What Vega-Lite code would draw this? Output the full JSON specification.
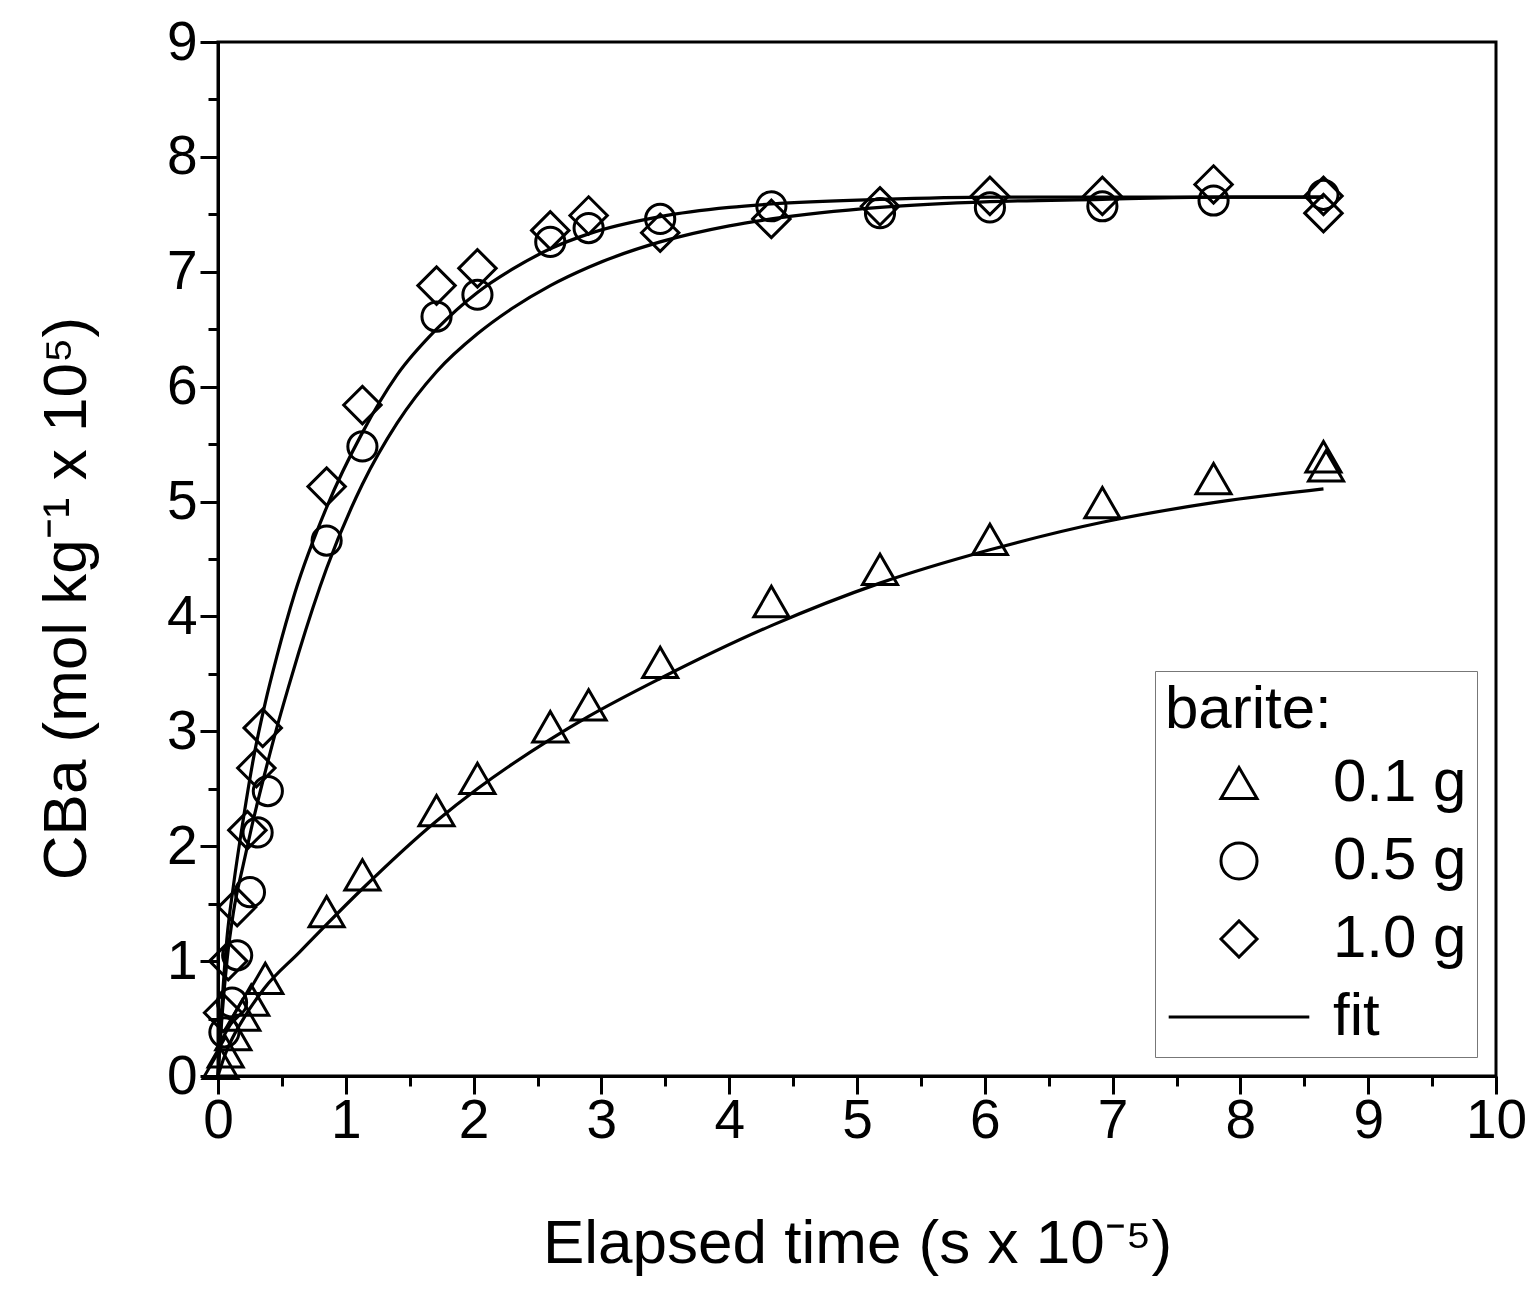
{
  "$schema": "https://vega.github.io/schema/vega-lite/v6.json",
  "width": 1278,
  "height": 1034,
  "autosize": {"type": "none"},
  "padding": {"left": 218, "top": 42, "right": 40, "bottom": 215},
  "background": "white",
  "config": {
    "font": "Liberation Sans",
    "view": {"stroke": "black", "strokeWidth": 3},
    "axis": {"grid": false, "domainColor": "black", "domainWidth": 3, "tickColor": "black", "tickWidth": 3, "labelColor": "black", "titleColor": "black", "labelFont": "Liberation Sans", "titleFont": "Liberation Sans"}
  },
  "datasets": {
    "points": [
      {"t": 0.02, "c": 0.11, "series": "0.1 g"},
      {"t": 0.06, "c": 0.21, "series": "0.1 g"},
      {"t": 0.12, "c": 0.36, "series": "0.1 g"},
      {"t": 0.19, "c": 0.53, "series": "0.1 g"},
      {"t": 0.26, "c": 0.66, "series": "0.1 g"},
      {"t": 0.37, "c": 0.85, "series": "0.1 g"},
      {"t": 0.85, "c": 1.43, "series": "0.1 g"},
      {"t": 1.13, "c": 1.75, "series": "0.1 g"},
      {"t": 1.71, "c": 2.31, "series": "0.1 g"},
      {"t": 2.03, "c": 2.59, "series": "0.1 g"},
      {"t": 2.6, "c": 3.04, "series": "0.1 g"},
      {"t": 2.9, "c": 3.23, "series": "0.1 g"},
      {"t": 3.46, "c": 3.6, "series": "0.1 g"},
      {"t": 4.33, "c": 4.13, "series": "0.1 g"},
      {"t": 5.18, "c": 4.41, "series": "0.1 g"},
      {"t": 6.04, "c": 4.67, "series": "0.1 g"},
      {"t": 6.92, "c": 4.99, "series": "0.1 g"},
      {"t": 7.79, "c": 5.2, "series": "0.1 g"},
      {"t": 8.65, "c": 5.39, "series": "0.1 g"},
      {"t": 8.67, "c": 5.31, "series": "0.1 g"},
      {"t": 0.05, "c": 0.38, "series": "0.5 g"},
      {"t": 0.11, "c": 0.64, "series": "0.5 g"},
      {"t": 0.15, "c": 1.05, "series": "0.5 g"},
      {"t": 0.25, "c": 1.6, "series": "0.5 g"},
      {"t": 0.31, "c": 2.12, "series": "0.5 g"},
      {"t": 0.39, "c": 2.48, "series": "0.5 g"},
      {"t": 0.85, "c": 4.66, "series": "0.5 g"},
      {"t": 1.13, "c": 5.48, "series": "0.5 g"},
      {"t": 1.71, "c": 6.61, "series": "0.5 g"},
      {"t": 2.03, "c": 6.8, "series": "0.5 g"},
      {"t": 2.6, "c": 7.26, "series": "0.5 g"},
      {"t": 2.9, "c": 7.38, "series": "0.5 g"},
      {"t": 3.46, "c": 7.46, "series": "0.5 g"},
      {"t": 4.33, "c": 7.57, "series": "0.5 g"},
      {"t": 5.18, "c": 7.51, "series": "0.5 g"},
      {"t": 6.04, "c": 7.56, "series": "0.5 g"},
      {"t": 6.92, "c": 7.57, "series": "0.5 g"},
      {"t": 7.79, "c": 7.62, "series": "0.5 g"},
      {"t": 8.65, "c": 7.67, "series": "0.5 g"},
      {"t": 0.04, "c": 0.55, "series": "1.0 g"},
      {"t": 0.08, "c": 1.0, "series": "1.0 g"},
      {"t": 0.15, "c": 1.47, "series": "1.0 g"},
      {"t": 0.23, "c": 2.14, "series": "1.0 g"},
      {"t": 0.3, "c": 2.68, "series": "1.0 g"},
      {"t": 0.35, "c": 3.03, "series": "1.0 g"},
      {"t": 0.85, "c": 5.13, "series": "1.0 g"},
      {"t": 1.13, "c": 5.84, "series": "1.0 g"},
      {"t": 1.71, "c": 6.88, "series": "1.0 g"},
      {"t": 2.03, "c": 7.03, "series": "1.0 g"},
      {"t": 2.6, "c": 7.36, "series": "1.0 g"},
      {"t": 2.9, "c": 7.49, "series": "1.0 g"},
      {"t": 3.46, "c": 7.34, "series": "1.0 g"},
      {"t": 4.33, "c": 7.46, "series": "1.0 g"},
      {"t": 5.18, "c": 7.57, "series": "1.0 g"},
      {"t": 6.04, "c": 7.66, "series": "1.0 g"},
      {"t": 6.92, "c": 7.66, "series": "1.0 g"},
      {"t": 7.79, "c": 7.76, "series": "1.0 g"},
      {"t": 8.65, "c": 7.66, "series": "1.0 g"},
      {"t": 8.65, "c": 7.51, "series": "1.0 g"}
    ],
    "fits": [
      {"t": 0, "c": 0, "fit": "fast"},
      {"t": 0.03, "c": 0.6, "fit": "fast"},
      {"t": 0.07, "c": 1.2, "fit": "fast"},
      {"t": 0.12, "c": 1.65, "fit": "fast"},
      {"t": 0.2, "c": 2.25, "fit": "fast"},
      {"t": 0.28, "c": 2.78, "fit": "fast"},
      {"t": 0.37, "c": 3.25, "fit": "fast"},
      {"t": 0.46, "c": 3.65, "fit": "fast"},
      {"t": 0.6, "c": 4.2, "fit": "fast"},
      {"t": 0.85, "c": 4.95, "fit": "fast"},
      {"t": 1.13, "c": 5.6, "fit": "fast"},
      {"t": 1.4, "c": 6.1, "fit": "fast"},
      {"t": 1.71, "c": 6.5, "fit": "fast"},
      {"t": 2.03, "c": 6.82, "fit": "fast"},
      {"t": 2.3, "c": 7.02, "fit": "fast"},
      {"t": 2.6, "c": 7.2, "fit": "fast"},
      {"t": 2.9, "c": 7.33, "fit": "fast"},
      {"t": 3.46, "c": 7.48, "fit": "fast"},
      {"t": 4.0, "c": 7.56, "fit": "fast"},
      {"t": 4.33, "c": 7.59, "fit": "fast"},
      {"t": 5.18, "c": 7.63, "fit": "fast"},
      {"t": 6.04, "c": 7.65, "fit": "fast"},
      {"t": 6.92, "c": 7.65, "fit": "fast"},
      {"t": 7.79, "c": 7.65, "fit": "fast"},
      {"t": 8.65, "c": 7.65, "fit": "fast"},
      {"t": 0, "c": 0, "fit": "slow"},
      {"t": 0.03, "c": 0.5, "fit": "slow"},
      {"t": 0.07, "c": 1.0, "fit": "slow"},
      {"t": 0.12, "c": 1.42, "fit": "slow"},
      {"t": 0.2, "c": 1.85, "fit": "slow"},
      {"t": 0.27, "c": 2.2, "fit": "slow"},
      {"t": 0.37, "c": 2.65, "fit": "slow"},
      {"t": 0.46, "c": 3.03, "fit": "slow"},
      {"t": 0.55, "c": 3.38, "fit": "slow"},
      {"t": 0.63, "c": 3.68, "fit": "slow"},
      {"t": 0.85, "c": 4.42, "fit": "slow"},
      {"t": 1.13, "c": 5.15, "fit": "slow"},
      {"t": 1.4, "c": 5.68, "fit": "slow"},
      {"t": 1.71, "c": 6.13, "fit": "slow"},
      {"t": 2.03, "c": 6.46, "fit": "slow"},
      {"t": 2.3, "c": 6.68, "fit": "slow"},
      {"t": 2.6, "c": 6.88, "fit": "slow"},
      {"t": 2.9, "c": 7.04, "fit": "slow"},
      {"t": 3.46, "c": 7.26, "fit": "slow"},
      {"t": 4.0, "c": 7.4, "fit": "slow"},
      {"t": 4.33, "c": 7.46, "fit": "slow"},
      {"t": 5.18, "c": 7.56, "fit": "slow"},
      {"t": 6.04, "c": 7.61, "fit": "slow"},
      {"t": 6.92, "c": 7.63, "fit": "slow"},
      {"t": 7.79, "c": 7.65, "fit": "slow"},
      {"t": 8.65, "c": 7.65, "fit": "slow"},
      {"t": 0, "c": 0, "fit": "low"},
      {"t": 0.05, "c": 0.17, "fit": "low"},
      {"t": 0.1, "c": 0.3, "fit": "low"},
      {"t": 0.2, "c": 0.5, "fit": "low"},
      {"t": 0.36, "c": 0.76, "fit": "low"},
      {"t": 0.64, "c": 1.08, "fit": "low"},
      {"t": 0.85, "c": 1.32, "fit": "low"},
      {"t": 1.13, "c": 1.63, "fit": "low"},
      {"t": 1.71, "c": 2.22, "fit": "low"},
      {"t": 2.03, "c": 2.5, "fit": "low"},
      {"t": 2.6, "c": 2.93, "fit": "low"},
      {"t": 2.9, "c": 3.13, "fit": "low"},
      {"t": 3.46, "c": 3.46, "fit": "low"},
      {"t": 4.33, "c": 3.92, "fit": "low"},
      {"t": 5.18, "c": 4.29, "fit": "low"},
      {"t": 6.04, "c": 4.58, "fit": "low"},
      {"t": 6.92, "c": 4.82, "fit": "low"},
      {"t": 7.79, "c": 4.99, "fit": "low"},
      {"t": 8.65, "c": 5.11, "fit": "low"}
    ]
  },
  "resolve": {"axis": {"x": "independent", "y": "independent"}},
  "layer": [
    {
      "data": {"name": "fits"},
      "mark": {"type": "line", "color": "black", "strokeWidth": 3.2, "interpolate": "monotone"},
      "encoding": {
        "x": {"field": "t", "type": "quantitative", "scale": {"domain": [0, 10], "nice": false, "zero": false},
          "axis": {"orient": "bottom", "values": [0,1,2,3,4,5,6,7,8,9,10], "tickSize": 18, "labelFontSize": 55, "labelPadding": 0, "labelFlush": false, "labelOverlap": false,
            "title": "Elapsed time (s x 10⁻⁵)", "titleFontSize": 62, "titleFontWeight": "normal", "titleBaseline": "alphabetic", "titleY": 186}},
        "y": {"field": "c", "type": "quantitative", "scale": {"domain": [0, 9], "nice": false, "zero": false},
          "axis": {"orient": "left", "values": [0,1,2,3,4,5,6,7,8,9], "tickSize": 18, "labelFontSize": 55, "labelPadding": 3, "labelFlush": false, "labelOverlap": false,
            "title": "CBa (mol kg⁻¹ x 10⁵)", "titleFontSize": 62, "titleFontWeight": "normal", "titleAngle": -90, "titleAlign": "center", "titleBaseline": "middle", "titleX": -152, "titleY": 556}},
        "detail": {"field": "fit", "type": "nominal"}
      }
    },
    {
      "data": {"name": "points"},
      "transform": [{"filter": "datum.series === '0.1 g'"}],
      "mark": {"type": "point", "filled": false, "stroke": "black", "strokeWidth": 3, "size": 1225, "opacity": 1},
      "encoding": {
        "x": {"field": "t", "type": "quantitative", "scale": {"domain": [0, 10], "nice": false, "zero": false},
          "axis": {"orient": "bottom", "values": [0.5,1.5,2.5,3.5,4.5,5.5,6.5,7.5,8.5,9.5], "tickSize": 10, "labels": false, "domain": false, "title": null}},
        "y": {"field": "c", "type": "quantitative", "scale": {"domain": [0, 9], "nice": false, "zero": false},
          "axis": {"orient": "left", "values": [0.5,1.5,2.5,3.5,4.5,5.5,6.5,7.5,8.5], "tickSize": 10, "labels": false, "domain": false, "title": null}},
        "shape": {"field": "series", "type": "nominal",
          "scale": {"domain": ["0.1 g", "0.5 g", "1.0 g", "fit"], "range": ["triangle-up", "circle", "diamond", "M-3.9,0H3.9"]},
          "legend": {"title": "barite:", "orient": "bottom-right", "offset": 19, "titleFontSize": 60, "titleFontWeight": "normal", "titleColor": "black",
            "labelFontSize": 60, "labelColor": "black", "symbolSize": 1300, "symbolStrokeWidth": 3, "symbolStrokeColor": "black", "symbolFillColor": "transparent",
            "strokeColor": "#777", "fillColor": "white", "padding": 10, "rowPadding": 18, "titlePadding": 12, "symbolOffset": 44, "labelOffset": 64}}
      }
    },
    {
      "data": {"name": "points"},
      "transform": [{"filter": "datum.series === '0.5 g'"}],
      "mark": {"type": "point", "filled": false, "stroke": "black", "strokeWidth": 3, "size": 850, "opacity": 1},
      "encoding": {
        "x": {"field": "t", "type": "quantitative", "scale": {"domain": [0, 10], "nice": false, "zero": false}, "axis": null},
        "y": {"field": "c", "type": "quantitative", "scale": {"domain": [0, 9], "nice": false, "zero": false}, "axis": null},
        "shape": {"field": "series", "type": "nominal", "scale": {"domain": ["0.1 g", "0.5 g", "1.0 g", "fit"], "range": ["triangle-up", "circle", "diamond", "M-3.9,0H3.9"]}}
      }
    },
    {
      "data": {"name": "points"},
      "transform": [{"filter": "datum.series === '1.0 g'"}],
      "mark": {"type": "point", "filled": false, "stroke": "black", "strokeWidth": 3, "size": 1400, "opacity": 1},
      "encoding": {
        "x": {"field": "t", "type": "quantitative", "scale": {"domain": [0, 10], "nice": false, "zero": false}, "axis": null},
        "y": {"field": "c", "type": "quantitative", "scale": {"domain": [0, 9], "nice": false, "zero": false}, "axis": null},
        "shape": {"field": "series", "type": "nominal", "scale": {"domain": ["0.1 g", "0.5 g", "1.0 g", "fit"], "range": ["triangle-up", "circle", "diamond", "M-3.9,0H3.9"]}}
      }
    }
  ]
}
